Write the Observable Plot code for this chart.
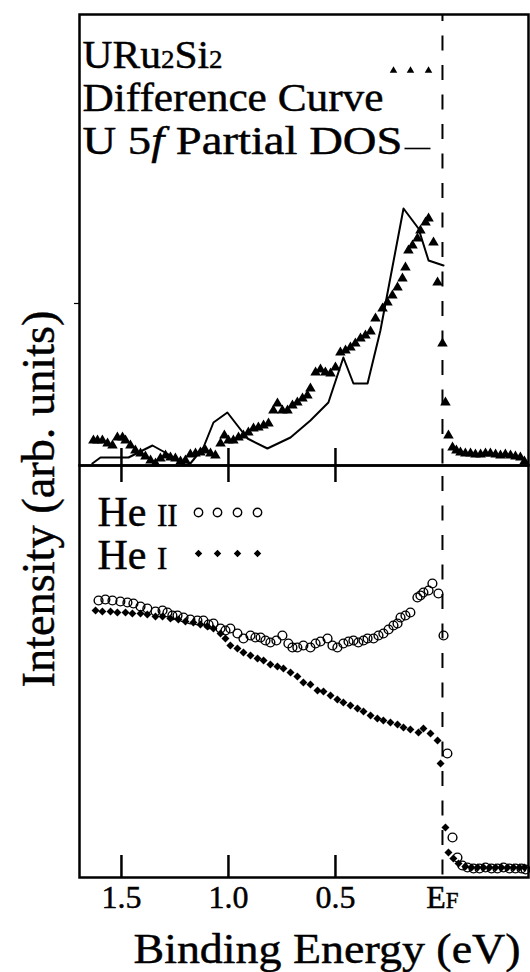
<!DOCTYPE html>
<html><head><meta charset="utf-8">
<script src="https://cdn.jsdelivr.net/npm/d3@7"></script>
<script src="https://cdn.jsdelivr.net/npm/@observablehq/plot@0.6"></script>
<style>
body{margin:0;background:#fff;}
#chart{position:relative;width:530px;height:972px;overflow:hidden;background:#fff;}
#chart svg{display:block;}
#chart svg text{stroke:black;stroke-width:0.45px;paint-order:stroke;}
</style></head><body><div id="chart"></div>
<script>
// ---- data (binding energy in eV, intensity in arbitrary units) ----
const diffE = [1.631,1.612,1.589,1.565,1.542,1.519,1.495,1.481,1.458,1.435,1.411,1.388,1.364,1.341,1.318,1.294,1.271,1.248,1.224,1.201,1.178,1.154,1.131,1.107,1.084,1.061,1.037,1.019,1.000,0.977,0.953,0.930,0.907,0.883,0.860,0.836,0.813,0.790,0.771,0.748,0.724,0.701,0.678,0.654,0.631,0.617,0.593,0.570,0.547,0.523,0.500,0.477,0.453,0.430,0.407,0.383,0.360,0.336,0.313,0.280,0.257,0.234,0.210,0.187,0.173,0.159,0.140,0.117,0.103,0.079,0.065,0.042,0.023,0.000,-0.014,-0.028,-0.047,-0.065,-0.084,-0.107,-0.131,-0.154,-0.178,-0.201,-0.224,-0.248,-0.271,-0.294,-0.318,-0.341,-0.364,-0.383];
const diffI = [25,25,25,22,20,28,28,25,20,15,12,9,5,2,7,10,8,7,4,5,11,12,13,15,12,10,22,30,25,25,28,30,33,37,38,40,42,55,62,55,55,60,63,67,70,77,93,96,93,92,98,113,115,118,122,127,130,134,147,157,163,170,178,187,198,215,220,227,235,243,247,223,183,122,63,30,18,15,13,12,12,11,11,12,12,11,10,11,10,9,8,4];

const dosE = [1.636,1.598,1.467,1.355,1.271,1.210,1.178,1.117,1.070,1.005,0.911,0.818,0.710,0.617,0.533,0.463,0.416,0.350,0.290,0.182,0.112,0.065,-0.005];
const dosI = [2,8,8,20,10,0,2,18,43,53,27,17,28,45,63,108,82,82,135,257,237,205,200];

const heIIE = [1.607,1.575,1.542,1.505,1.472,1.444,1.411,1.379,1.341,1.308,1.285,1.262,1.238,1.210,1.178,1.145,1.117,1.093,1.070,1.037,1.014,0.991,0.958,0.930,0.897,0.874,0.850,0.827,0.804,0.776,0.748,0.720,0.701,0.678,0.650,0.617,0.593,0.570,0.537,0.514,0.491,0.463,0.439,0.416,0.393,0.369,0.350,0.322,0.299,0.276,0.252,0.229,0.210,0.196,0.173,0.150,0.117,0.103,0.089,0.065,0.047,0.019,-0.005,-0.023,-0.047,-0.070,-0.093,-0.117,-0.145,-0.173,-0.201,-0.229,-0.257,-0.285,-0.313,-0.341,-0.369,-0.388];
const heIII = [277,278,277,276,275,274,271,269,266,267,265,262,262,260,258,257,257,253,254,249,247,249,244,239,242,240,240,237,235,237,242,234,230,230,232,230,234,236,239,232,230,234,236,237,235,237,239,239,242,244,248,252,254,260,262,265,280,282,285,287,294,284,242,124,40,20,12,10,9,9,10,9,9,10,9,9,9,8];

const heIE = [1.621,1.589,1.551,1.519,1.481,1.449,1.411,1.379,1.341,1.308,1.271,1.234,1.201,1.164,1.131,1.098,1.070,1.037,1.014,0.991,0.958,0.930,0.897,0.864,0.836,0.804,0.771,0.743,0.710,0.678,0.650,0.617,0.584,0.556,0.523,0.491,0.463,0.430,0.397,0.369,0.336,0.304,0.276,0.243,0.210,0.182,0.150,0.112,0.089,0.056,0.023,0.009,-0.014,-0.028,-0.051,-0.075,-0.107,-0.136,-0.164,-0.192,-0.220,-0.248,-0.276,-0.304,-0.332,-0.360,-0.383];
const heII = [267,266,266,265,265,264,264,263,261,261,259,258,256,255,253,251,249,244,239,232,229,225,222,219,217,213,211,209,205,201,195,193,187,186,182,178,175,172,169,166,162,159,157,155,153,150,148,145,149,144,137,114,50,25,19,14,11,10,10,10,10,10,10,10,10,10,10];

const tickValues = [1.5, 1.0, 0.5, 0];
const tickLabels = ["1.5", "1.0", "0.5", "EF"];
const majorTicks = [1.5, 1.0, 0.5];
const xDomain = [1.696, -0.402];
const topDomain = [0, 451];
const bottomDomain = [0, 412];
const xTitle = "Binding Energy (eV)";
const yTitle = "Intensity (arb. units)";

// ---- tables ----
const diff = diffE.map((e, i) => ({e, v: diffI[i]}));
const dos = dosE.map((e, i) => ({e, v: dosI[i]}));
const heIIdata = heIIE.map((e, i) => ({e, v: heIII[i]}));
const heIdata = heIE.map((e, i) => ({e, v: heII[i]}));
const labelOf = new Map(tickValues.map((t, i) => [t, tickLabels[i]]));

const FONT = "Liberation Serif";
const dashSymbol = {draw(ctx) { ctx.moveTo(-13, 0); ctx.lineTo(13, 0); }};

const topPlot = Plot.plot({
  width: 530, height: 465,
  marginTop: 14, marginBottom: 0, marginLeft: 79, marginRight: 2,
  style: {fontFamily: FONT, background: "white", overflow: "visible", color: "black"},
  x: {domain: xDomain, axis: null},
  y: {domain: topDomain},
  marks: [
    Plot.ruleX([0], {stroke: "black", strokeWidth: 2, strokeDasharray: "15,14.5", strokeDashoffset: 8}),
    Plot.tickX(majorTicks, {x: d => d, insetTop: 434, strokeWidth: 2.5}),
    Plot.line(dos, {x: "e", y: "v", stroke: "black", strokeWidth: 2}),
    Plot.dot(diff, {x: "e", y: "v", symbol: "triangle", r: 3.9, fill: "black", stroke: null}),
    Plot.frame({stroke: "black", strokeWidth: 2.5}),
    Plot.axisY([162], {tickSize: 5, tickFormat: () => "", label: null, strokeWidth: 1.2}),
    Plot.text(["URu2Si2"], {frameAnchor: "top-left", dx: 3, dy: 53, textAnchor: "start", lineAnchor: "bottom", fontSize: 40, text: d => d}),
    Plot.text(["Difference Curve"], {frameAnchor: "top-left", dx: 3, dy: 96, textAnchor: "start", lineAnchor: "bottom", fontSize: 40, text: d => d}),
    Plot.text(["U 5f Partial DOS"], {frameAnchor: "top-left", dx: 3, dy: 139, textAnchor: "start", lineAnchor: "bottom", fontSize: 40, text: d => d}),
    ...[314, 331, 349].map(dx => Plot.dot([0], {frameAnchor: "top-left", dx, dy: 56, symbol: "triangle", r: 2.8, fill: "black", stroke: null})),
    Plot.dot([0], {frameAnchor: "top-left", dx: 338, dy: 134, symbol: dashSymbol, stroke: "black", strokeWidth: 1.6, fill: "none"})
  ]
});

const bottomPlot = Plot.plot({
  width: 530, height: 507,
  marginTop: 0, marginBottom: 95, marginLeft: 79, marginRight: 2,
  style: {fontFamily: FONT, background: "white", overflow: "visible", color: "black"},
  x: {domain: xDomain},
  y: {domain: bottomDomain, axis: null},
  marks: [
    Plot.ruleX([0], {stroke: "black", strokeWidth: 2, strokeDasharray: "15,14.5", strokeDashoffset: 18.5}),
    Plot.tickX(majorTicks, {x: d => d, insetTop: 390, strokeWidth: 2.5}),
    Plot.tickX(majorTicks, {x: d => d, insetBottom: 395, strokeWidth: 2.5}),
    Plot.dot(heIdata, {x: "e", y: "v", symbol: "diamond2", r: 3.6, fill: "black", stroke: null}),
    Plot.dot(heIIdata, {x: "e", y: "v", symbol: "circle", r: 4.4, fill: "none", stroke: "black", strokeWidth: 1.4}),
    Plot.frame({stroke: "black", strokeWidth: 2.5}),
    Plot.axisX(tickValues, {tickSize: 0, tickPadding: 7.3, fontSize: 32, tickFormat: d => labelOf.get(d), label: null}),
    Plot.text(["He II"], {frameAnchor: "top-left", dx: 18, dy: 60, textAnchor: "start", lineAnchor: "bottom", fontSize: 42, text: d => d}),
    Plot.text(["He I"], {frameAnchor: "top-left", dx: 18, dy: 103, textAnchor: "start", lineAnchor: "bottom", fontSize: 42, text: d => d}),
    ...[119, 138, 158, 178].map(dx => Plot.dot([0], {frameAnchor: "top-left", dx, dy: 47, symbol: "circle", r: 4.2, fill: "none", stroke: "black", strokeWidth: 1.4})),
    ...[119, 138, 158, 178].map(dx => Plot.dot([0], {frameAnchor: "top-left", dx, dy: 88, symbol: "diamond2", r: 3.4, fill: "black", stroke: null})),
    Plot.text([xTitle], {frameAnchor: "bottom", dx: 23, dy: 85, textAnchor: "middle", lineAnchor: "bottom", fontSize: 42, text: d => d}),
    Plot.text([yTitle], {frameAnchor: "top-left", dx: -26, dy: 33.5, rotate: -90, textAnchor: "middle", lineAnchor: "bottom", fontSize: 46, text: d => d})
  ]
});

const chart = document.getElementById("chart");
chart.appendChild(topPlot);
chart.appendChild(bottomPlot);

// ---- typographic refinements ----
function texts(svg, content) {
  return d3.select(svg).selectAll("text").filter(function() { return this.textContent === content; });
}
function fit(svg, content, len) {
  texts(svg, content).attr("textLength", len).attr("lengthAdjust", "spacingAndGlyphs");
}
function rich(svg, content, parts) {
  texts(svg, content).each(function() {
    const t = d3.select(this);
    t.text(null);
    for (const p of parts) {
      const s = t.append("tspan").text(p.t);
      if (p.size) s.style("font-size", p.size + "px");
      if (p.italic) s.style("font-style", "italic");
    }
  });
}
fit(topPlot, "Difference Curve", 301);
rich(topPlot, "URu2Si2", [{t: "URu"}, {t: "2", size: 26}, {t: "Si"}, {t: "2", size: 26}]);
fit(topPlot, "URu2Si2", 140);
rich(topPlot, "U 5f Partial DOS", [{t: "U 5"}, {t: "f", italic: true}, {t: " Partial DOS"}]);
fit(topPlot, "U 5f Partial DOS", 320);
rich(bottomPlot, "He II", [{t: "He "}, {t: "II", size: 31}]);
rich(bottomPlot, "He I", [{t: "He "}, {t: "I", size: 31}]);
rich(bottomPlot, "EF", [{t: "E"}, {t: "F", size: 23}]);
fit(bottomPlot, xTitle, 387);
fit(bottomPlot, yTitle, 377);
</script>
</body></html>
